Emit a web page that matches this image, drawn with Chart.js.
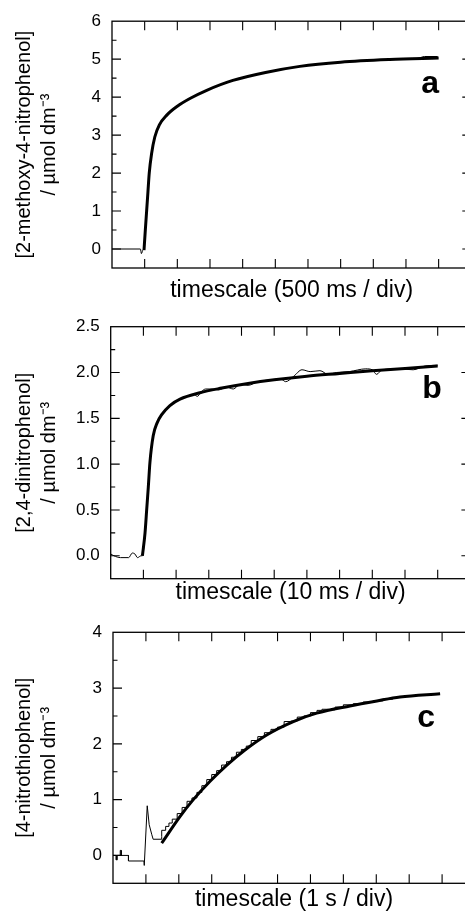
<!DOCTYPE html>
<html>
<head>
<meta charset="utf-8">
<script src="https://cdn.jsdelivr.net/npm/chart.js@4.4.0/dist/chart.umd.min.js"></script>
<style>
  html, body { margin: 0; padding: 0; background: #fff; }
  #wrap { position: relative; width: 465px; height: 916px; overflow: hidden; }
  canvas { position: absolute; left: 0; }
</style>
</head>
<body>
<div id="wrap">
  <canvas id="chartA" width="480" height="305" style="top:0px"></canvas>
  <canvas id="chartB" width="480" height="305" style="top:305px"></canvas>
  <canvas id="chartC" width="480" height="306" style="top:610px"></canvas>
</div>
<script>
const FONT = "'Liberation Sans', Arial, Helvetica, sans-serif";

// Panel a - 2-methoxy-4-nitrophenol (time in ms, 500 ms / div)
const timeFitA = [490, 510, 530, 550, 570, 605, 655, 725, 835, 1000, 1200, 1450, 1850, 2350, 2875, 3500, 4250, 5000];
const concFitA = [-0.03, 0.5, 1.0, 1.5, 2.0, 2.5, 2.95, 3.27, 3.52, 3.76, 3.97, 4.18, 4.44, 4.65, 4.81, 4.92, 4.99, 5.03];
const timeRawA = [0, 435, 450, 475, 490, 510, 530, 550, 570, 605, 655, 725, 835, 1000, 1200, 1450, 1850, 2350, 2875,
                  3500, 4250, 4680, 4785, 4985];
const concRawA = [0, 0, -0.12, -0.02, 0.0, 0.5, 1.0, 1.5, 2.0, 2.5, 2.95, 3.27, 3.52, 3.76, 3.97, 4.18, 4.44, 4.65, 4.81,
                  4.92, 4.99, 5.02, 5.07, 5.07];
const yTicksA = [0, 1, 2, 3, 4, 5, 6];

// Panel b - 2,4-dinitrophenol (time in ms, 10 ms / div)
const timeFitB = [9.7, 10.5, 11.0, 11.5, 12.0, 13.0, 14.2, 15.6, 18.1, 21.2, 27.3, 34, 42, 50, 60, 70, 80, 90, 100];
const concFitB = [0.0, 0.25, 0.5, 0.75, 1.02, 1.31, 1.45, 1.54, 1.64, 1.71, 1.78, 1.83, 1.88, 1.92, 1.96, 1.99, 2.02, 2.045, 2.07];
const timeRawB = [0, 1, 3, 5.5, 6.6, 7.4, 8.2, 9.3, 9.7, 10.5, 11, 11.5, 12, 13, 14.2, 15.6, 18.1, 21.2, 24, 25.5, 26.5,
                  27.5, 29, 31, 33, 35.5, 37.5, 39.5, 42, 45, 49, 52, 53.5, 56, 58.5, 61, 64, 66.5, 69, 73, 78, 80, 81.3,
                  83, 88, 92.5, 96, 100];
const concRawB = [0.02, 0.0, -0.02, -0.02, 0.03, 0.02, -0.02, 0.0, 0.0, 0.25, 0.5, 0.75, 1.02, 1.31, 1.45, 1.54, 1.64, 1.71,
                  1.75, 1.76, 1.74, 1.78, 1.82, 1.82, 1.81, 1.84, 1.82, 1.87, 1.86, 1.90, 1.92, 1.93, 1.90, 1.96, 2.03,
                  2.01, 2.02, 1.98, 2.00, 2.01, 2.04, 2.03, 1.98, 2.03, 2.04, 2.03, 2.07, 2.08];
const yTicksB = [0, 0.5, 1.0, 1.5, 2.0, 2.5];

// Panel c - 4-nitrothiophenol (time in s, 1 s / div)
const timeFitC = [1.48, 2.04, 2.44, 2.95, 3.46, 4.01, 4.67, 5.48, 6.19, 7.20, 8.02, 8.72, 9.94];
const concFitC = [0.22, 0.70, 1.0, 1.33, 1.62, 1.89, 2.16, 2.40, 2.55, 2.68, 2.77, 2.84, 2.90];
const timePreC = [0, 0.1, 0.1, 0.13, 0.13, 0.22, 0.22, 0.25, 0.25, 0.47, 0.47, 0.94, 0.95, 1.04, 1.10, 1.18, 1.22, 1.48, 1.48];
const concPreC = [0, 0, -0.08, -0.08, 0, 0, 0.09, 0.09, 0, 0, -0.1, -0.1, -0.18, 0.89, 0.55, 0.37, 0.29, 0.29, 0.34];
const timeStepC = [1.48, 1.6, 1.7, 1.8, 1.95, 2.1, 2.25, 2.4, 2.55, 2.7, 2.85, 3.0, 3.15, 3.3, 3.45, 3.6, 3.75, 3.9, 4.05, 4.2,
                   4.4, 4.6, 4.8, 5.0, 5.2, 5.4, 5.6, 5.8, 6.0, 6.2, 6.35, 6.55, 6.75, 7.0, 7.3, 7.6, 7.9, 8.2, 8.5, 8.75];
const concStepC = [0.34, 0.45, 0.52, 0.58, 0.65, 0.75, 0.86, 0.97, 1.03, 1.13, 1.25, 1.36, 1.45, 1.52, 1.62, 1.68, 1.76, 1.85,
                   1.90, 1.96, 2.06, 2.13, 2.20, 2.26, 2.30, 2.40, 2.41, 2.48, 2.50, 2.56, 2.60, 2.62, 2.61, 2.66, 2.70,
                   2.72, 2.75, 2.77, 2.80, 2.83];
const yTicksC = [0, 1, 2, 3, 4];

const pts = (xs, ys) => xs.map((x, i) => ({ x: x, y: ys[i] }));

// box, inward ticks and panel letter
const frame = {
  id: 'frame',
  afterDraw(chart, args, opts) {
    const { ctx, chartArea: ca } = chart;
    const x = chart.scales.x, y = chart.scales.y;
    ctx.save();
    ctx.strokeStyle = '#000';
    ctx.lineWidth = 1.3;
    ctx.strokeRect(ca.left, ca.top, ca.right - ca.left, ca.bottom - ca.top);
    ctx.lineWidth = 1.1;
    ctx.beginPath();
    const nx = Math.round((x.max - x.min) / opts.xStep);
    for (let i = 1; i < nx; i++) {
      const px = x.getPixelForValue(x.min + i * opts.xStep);
      ctx.moveTo(px, ca.bottom); ctx.lineTo(px, ca.bottom - 9);
      ctx.moveTo(px, ca.top); ctx.lineTo(px, ca.top + 9);
    }
    const ny = Math.round((y.max - y.min) / opts.yMinor);
    for (let i = 1; i < ny; i++) {
      const v = y.min + i * opts.yMinor;
      const major = Math.abs(v / opts.yMajor - Math.round(v / opts.yMajor)) < 1e-6;
      const len = major ? 9 : 4.5;
      const py = y.getPixelForValue(v);
      ctx.moveTo(ca.left, py); ctx.lineTo(ca.left + len, py);
      ctx.moveTo(ca.right, py); ctx.lineTo(ca.right - len, py);
    }
    ctx.stroke();
    ctx.fillStyle = '#000';
    ctx.font = 'bold 32px ' + FONT;
    ctx.textAlign = 'right';
    ctx.textBaseline = 'alphabetic';
    ctx.fillText(opts.letter, opts.letterX, opts.letterY);
    ctx.restore();
  }
};

function makePanel(p) {
  const datasets = p.fits.map(d => ({
    data: d, borderColor: '#000', borderWidth: 3, pointRadius: 0,
    cubicInterpolationMode: 'monotone', order: 0
  })).concat(p.raws.map(d => ({
    data: d.data, borderColor: '#000', borderWidth: 1, pointRadius: 0,
    stepped: d.stepped || false, tension: d.smooth ? 0.4 : 0,
    cubicInterpolationMode: d.smooth ? 'monotone' : 'default', order: 1
  })));

  return new Chart(document.getElementById(p.id), {
    type: 'line',
    data: { datasets: datasets },
    plugins: [frame],
    options: {
      responsive: false,
      animation: false,
      events: [],
      layout: { padding: { top: p.top, right: 480 - p.right, left: 0, bottom: 0 } },
      plugins: {
        legend: { display: false },
        tooltip: { enabled: false },
        frame: { xStep: p.xStep, yMajor: p.yMajor, yMinor: p.yMinor,
                 letter: p.letter, letterX: p.letterX, letterY: p.letterY }
      },
      scales: {
        x: {
          type: 'linear', min: 0, max: p.xMax,
          grid: { display: false, drawTicks: false },
          border: { display: false },
          ticks: { display: false },
          afterFit: s => { s.height = p.h - p.bottom; },
          title: {
            display: true, text: p.xTitle, color: '#000',
            font: { family: FONT, size: 23 },
            padding: { top: 0, bottom: p.xTitlePad }
          }
        },
        y: {
          type: 'linear', min: p.yMin, max: p.yMax,
          grid: { display: false, drawTicks: false },
          border: { display: false },
          afterBuildTicks: s => { s.ticks = p.yTicks.map(v => ({ value: v })); },
          ticks: {
            color: '#000', padding: 11,
            font: { family: FONT, size: 17 },
            callback: v => v.toFixed(p.decimals)
          },
          afterFit: s => { s.width = p.left; },
          title: {
            display: true, text: p.yTitle, color: '#000',
            font: { family: FONT, size: 20, lineHeight: 1.25 },
            padding: { top: 12, bottom: 0 }
          }
        }
      }
    }
  });
}

makePanel({
  id: 'chartA', h: 305, top: 21, bottom: 268, left: 112, right: 471.3,
  xMax: 5500, xStep: 500, yMin: -0.5, yMax: 6, yMajor: 1, yMinor: 0.5,
  yTicks: yTicksA, decimals: 0, xTitlePad: 0.2,
  xTitle: 'timescale (500 ms / div)',
  yTitle: ['[2-methoxy-4-nitrophenol]', '/ µmol dm⁻³'],
  letter: 'a', letterX: 439, letterY: 93,
  fits: [pts(timeFitA, concFitA)],
  raws: [{ data: pts(timeRawA, concRawA), smooth: true }]
});

makePanel({
  id: 'chartB', h: 305, top: 21.7, bottom: 273.7, left: 110.7, right: 470.4,
  xMax: 110, xStep: 10, yMin: -0.25, yMax: 2.5, yMajor: 0.5, yMinor: 0.25,
  yTicks: yTicksB, decimals: 1, xTitlePad: 3.4,
  xTitle: 'timescale (10 ms / div)',
  yTitle: ['[2,4-dinitrophenol]', '/ µmol dm⁻³'],
  letter: 'b', letterX: 441.7, letterY: 93,
  fits: [pts(timeFitB, concFitB)],
  raws: [{ data: pts(timeRawB, concRawB), smooth: true }]
});

makePanel({
  id: 'chartC', h: 306, top: 22.3, bottom: 273.3, left: 113, right: 475,
  xMax: 11, xStep: 1, yMin: -0.5, yMax: 4, yMajor: 1, yMinor: 0.5,
  yTicks: yTicksC, decimals: 0, xTitlePad: 2.4,
  xTitle: 'timescale (1 s / div)',
  yTitle: ['[4-nitrothiophenol]', '/ µmol dm⁻³'],
  letter: 'c', letterX: 435, letterY: 116.7,
  fits: [pts(timeFitC, concFitC)],
  raws: [{ data: pts(timePreC, concPreC) }, { data: pts(timeStepC, concStepC), stepped: 'after' }]
});
</script>
</body>
</html>
